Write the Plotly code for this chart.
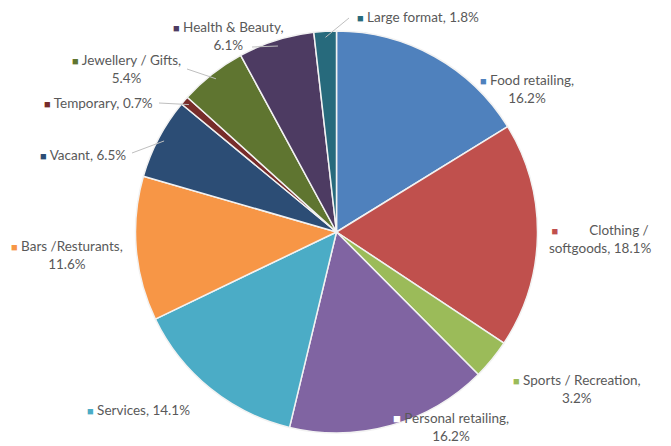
import math
import plotly.graph_objects as go

labels = ["Food retailing", "Clothing / softgoods", "Sports / Recreation", "Personal retailing",
          "Services", "Bars /Resturants", "Vacant", "Temporary", "Jewellery / Gifts",
          "Health & Beauty", "Large format"]
values = [16.2, 18.1, 3.2, 16.2, 14.1, 11.6, 6.5, 0.7, 5.4, 6.1, 1.8]
colors = ["#4F81BD", "#C0504D", "#9BBB59", "#8064A2", "#4BACC6", "#F79646",
          "#2C4D75", "#772C2A", "#5F7530", "#4D3B62", "#276A7C"]

# label text layout (line break positions) and label centres in pixels
label_lines = [
    ("Food retailing,", "{v}%"),
    ("Clothing /", "softgoods, {v}%"),
    ("Sports / Recreation,", "{v}%"),
    ("Personal retailing,", "{v}%"),
    ("Services, {v}%",),
    ("Bars /Resturants,", "{v}%"),
    ("Vacant, {v}%",),
    ("Temporary, {v}%",),
    ("Jewellery / Gifts,", "{v}%"),
    ("Health & Beauty,", "{v}%"),
    ("Large format, {v}%",),
]
label_pos = [(527, 89), (600, 239), (577, 389), (451, 427), (138, 410), (67, 255),
             (83, 155), (98, 103), (126, 69), (228, 36), (418, 17)]
# leader line start points (px) for labels that have one
leader_start = {6: (132, 153), 7: (159, 103), 8: (187, 69), 9: (252, 47), 10: (349, 18)}

W, H = 671, 446
cx, cy, R = 336.5, 232.0, 201.0

fig = go.Figure(go.Pie(
    labels=labels, values=values, sort=False, direction="clockwise", rotation=0,
    marker=dict(colors=colors, line=dict(color="#F2F2F2", width=1.5)),
    textinfo="none", hoverinfo="label+value", showlegend=False,
    domain=dict(x=[(cx - R) / W, (cx + R) / W], y=[1 - (cy + R) / H, 1 - (cy - R) / H]),
))

total = sum(values)
annotations = []
shapes = []
cum = 0.0
for i, (lab, v, col) in enumerate(zip(labels, values, colors)):
    mid = (cum + v / 2) / total * 2 * math.pi
    cum += v
    lines = [l.format(v=v) for l in label_lines[i]]
    if i == 3:
        first = "<span style='color:#FFFFFF;font-size:13px'>■</span> " + lines[0]
    elif i == 1:
        first = f"<span style='color:{col};font-size:11px'>■</span>" + "&nbsp;" * 9 + lines[0]
    else:
        first = f"<span style='color:{col};font-size:11px'>■</span> " + lines[0]
    text = "<br>".join([first] + lines[1:])
    px, py = label_pos[i]
    annotations.append(dict(
        x=px / W, y=1 - py / H, xref="paper", yref="paper", text=text, showarrow=False,
        xanchor="center", yanchor="middle", align="center",
        font=dict(family="Lato", size=13.5, color="#595959"),
    ))
    if i in leader_start:
        ex = cx + 0.97 * R * math.sin(mid)
        ey = cy - 0.97 * R * math.cos(mid)
        sx, sy = leader_start[i]
        shapes.append(dict(type="line", xref="paper", yref="paper",
                           x0=sx / W, y0=1 - sy / H, x1=ex / W, y1=1 - ey / H,
                           line=dict(color="#BFBFBF", width=1)))

fig.update_layout(
    width=W, height=H, margin=dict(l=0, r=0, t=0, b=0),
    paper_bgcolor="white", plot_bgcolor="white",
    annotations=annotations, shapes=shapes,
)
fig.write_html("out.html")
